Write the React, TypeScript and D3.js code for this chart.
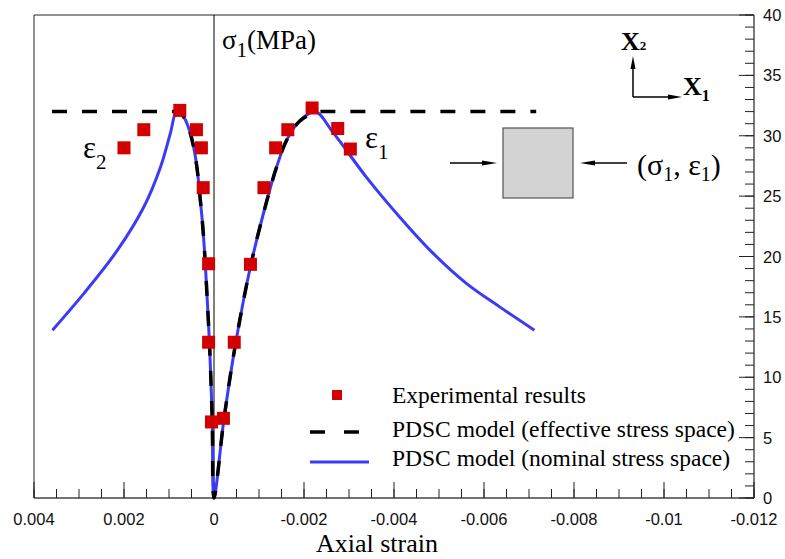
import React from "react";
import * as d3 from "d3";

// ---- data (strain, stress MPa) ----
const leftPrePeak: [number, number][] = [
  [0.00083, 32], [0.00068, 31.6], [0.00056, 30.6], [0.00046, 29.2], [0.00038, 27.4],
  [0.00031, 24.9], [0.00025, 22.5], [0.0002, 19.8], [0.00015, 16.4], [0.0001, 12.8],
  [0.00004, 6.5], [0, 0],
];
const rightPrePeak: [number, number][] = [
  [0, 0], [-0.00022, 6.5], [-0.00048, 12.8], [-0.00083, 19.5], [-0.00118, 24.7],
  [-0.00139, 27.4], [-0.00161, 29.6], [-0.0019, 31.2], [-0.00225, 32],
];
const leftSoftening: [number, number][] = [
  [0.00359, 13.9], [0.00289, 16.95], [0.00215, 20.5], [0.00156, 24.1],
  [0.00119, 27.4], [0.00097, 30.2],
];
const rightSoftening: [number, number][] = [
  [-0.00264, 30.3], [-0.00338, 26.6], [-0.00412, 23.3], [-0.00486, 20.3],
  [-0.0056, 17.8], [-0.00634, 15.85], [-0.00712, 13.9],
];
const effectiveLeftEnd: [number, number] = [0.0036, 32];
const effectiveRightEnd: [number, number] = [-0.00716, 32];

const experimental: [number, number][] = [
  [0.00076, 32.1], [0.00156, 30.5], [0.002, 29.0], [0.00039, 30.5], [0.00028, 29.0],
  [0.00024, 25.7], [0.00012, 19.4], [0.00012, 12.9], [0.000056, 6.3],
  [-0.00218, 32.3], [-0.00164, 30.5], [-0.00137, 29.0], [-0.00111, 25.7],
  [-0.00275, 30.6], [-0.00303, 28.9], [-0.00081, 19.35], [-0.00045, 12.9], [-0.00021, 6.6],
];

const xTickValues = [0.004, 0.002, 0, -0.002, -0.004, -0.006, -0.008, -0.01, -0.012];
const xTickLabels = ["0.004", "0.002", "0", "-0.002", "-0.004", "-0.006", "-0.008", "-0.01", "-0.012"];
const yTickValues = [0, 5, 10, 15, 20, 25, 30, 35, 40];
const yTickLabels = ["0", "5", "10", "15", "20", "25", "30", "35", "40"];
const legendLabels = [
  "Experimental results",
  "PDSC model (effective stress space)",
  "PDSC model (nominal stress space)",
];

const W = 785, H = 559;
const L = 34, R = 754, T = 15, B = 498;
const SERIF = "'Liberation Serif', 'Times New Roman', serif";
const SANS = "'Liberation Sans', Arial, sans-serif";
const RED = "#d20000";
const BLUE = "#3b3bf7";

export default function App() {
  const x = d3.scaleLinear().domain([0.004, -0.012]).range([L, R]);
  const y = d3.scaleLinear().domain([0, 40]).range([B, T]);

  const line = d3
    .line<[number, number]>()
    .x((d) => x(d[0]))
    .y((d) => y(d[1]))
    .curve(d3.curveCatmullRom.alpha(0.5));
  const straight = d3
    .line<[number, number]>()
    .x((d) => x(d[0]))
    .y((d) => y(d[1]));

  const nominal: [number, number][] = [
    ...leftSoftening,
    ...leftPrePeak,
    ...rightPrePeak.slice(1),
    ...rightSoftening,
  ];
  const prePeak: [number, number][] = [...leftPrePeak, ...rightPrePeak.slice(1)];
  const effectivePath =
    straight([effectiveLeftEnd, leftPrePeak[0]])! +
    (line(prePeak) as string).replace(/^M/, "L") +
    straight([rightPrePeak[rightPrePeak.length - 1], effectiveRightEnd])!.replace(/^M/, "L");

  const minorX = x.ticks(32);
  const minorY = y.ticks(40);
  const ms = 13;

  return (
    <svg width={W} height={H} style={{ position: "absolute", left: 0, top: 0, background: "#fff" }}>
      <rect x={0} y={0} width={W} height={H} fill="#fff" />
      {/* frame */}
      <line x1={L} y1={T} x2={R} y2={T} stroke="#222" strokeWidth={1} />
      <line x1={L} y1={T} x2={L} y2={B} stroke="#222" strokeWidth={1} />
      <line x1={R} y1={T} x2={R} y2={B} stroke="#333" strokeWidth={1.3} />
      <line x1={L} y1={B} x2={R} y2={B} stroke="#444" strokeWidth={1.6} />
      {/* x ticks */}
      {minorX.map((t, i) => (
        <line key={"mx" + i} x1={x(t)} x2={x(t)} y1={B} y2={B - 9} stroke="#222" strokeWidth={1} />
      ))}
      {xTickValues.map((t, i) => (
        <g key={"x" + i}>
          <line x1={x(t)} x2={x(t)} y1={B} y2={B - 16} stroke="#222" strokeWidth={1} />
          <text x={x(t)} y={524.5} textAnchor="middle" fontFamily={SANS} fontSize={16.5} fill="#111">
            {xTickLabels[i]}
          </text>
        </g>
      ))}
      {/* y ticks */}
      {minorY.map((t, i) => (
        <line key={"my" + i} x1={R} x2={R - 9} y1={y(t)} y2={y(t)} stroke="#222" strokeWidth={1} />
      ))}
      {yTickValues.map((t, i) => (
        <g key={"y" + i}>
          <line x1={R} x2={R - 15} y1={y(t)} y2={y(t)} stroke="#222" strokeWidth={1} />
          <text x={763} y={y(t) + 6} fontFamily={SANS} fontSize={16.5} fill="#111">
            {yTickLabels[i]}
          </text>
        </g>
      ))}
      {/* vertical axis at 0 */}
      <line x1={x(0)} x2={x(0)} y1={T} y2={B} stroke="#000" strokeWidth={1} />

      {/* curves */}
      <path d={line(nominal)!} fill="none" stroke={BLUE} strokeWidth={3} />
      <path d={effectivePath} fill="none" stroke="#000" strokeWidth={3.5} strokeDasharray="15 15" />

      {/* experimental */}
      {experimental.map((d, i) => (
        <rect key={"e" + i} x={x(d[0]) - ms / 2} y={y(d[1]) - ms / 2} width={ms} height={ms} fill={RED} />
      ))}

      {/* axis title */}
      <text x={377} y={552} textAnchor="middle" fontFamily={SERIF} fontSize={26} fill="#000">
        Axial strain
      </text>

      {/* annotations */}
      <text x={222} y={49} fontFamily={SERIF} fontSize={27} fill="#000">
        σ<tspan fontSize={21} dy={8}>1</tspan>
        <tspan dy={-8}>(MPa)</tspan>
      </text>
      <text x={83} y={158} fontFamily={SERIF} fontSize={31} fill="#000">
        ε<tspan fontSize={21} dy={11}>2</tspan>
      </text>
      <text x={365} y={148} fontFamily={SERIF} fontSize={31} fill="#000">
        ε<tspan fontSize={21} dy={11}>1</tspan>
      </text>
      <text x={637} y={175} fontFamily={SERIF} fontSize={30} fill="#000">
        (σ<tspan fontSize={20} dy={6}>1</tspan>
        <tspan dy={-6}>, ε</tspan>
        <tspan fontSize={20} dy={6}>1</tspan>
        <tspan dy={-6}>)</tspan>
      </text>

      {/* coordinate axes glyph */}
      <line x1={633} y1={97} x2={633} y2={68} stroke="#000" strokeWidth={1.5} />
      <path d="M633,56 L630.5,69 L635.5,69 Z" fill="#000" />
      <line x1={633} y1={97} x2={670} y2={97} stroke="#000" strokeWidth={1.5} />
      <path d="M682,97 L668,94.5 L668,99.5 Z" fill="#000" />
      <text x={621} y={50} fontFamily={SERIF} fontSize={26} fontWeight="bold" fill="#000">
        X<tspan fontSize={13} dy={0}>2</tspan>
      </text>
      <text x={683} y={95} fontFamily={SERIF} fontSize={26} fontWeight="bold" fill="#000">
        X<tspan fontSize={16} dy={6}>1</tspan>
      </text>

      {/* specimen */}
      <rect x={503} y={128} width={70} height={70} fill="#d3d3d3" stroke="#555" strokeWidth={1.2} />
      <line x1={450} y1={163} x2={485} y2={163} stroke="#000" strokeWidth={1.4} />
      <path d="M497,163 L482,160.5 L482,165.5 Z" fill="#000" />
      <line x1={592} y1={163} x2={627} y2={163} stroke="#000" strokeWidth={1.4} />
      <path d="M580,163 L595,160.5 L595,165.5 Z" fill="#000" />

      {/* legend */}
      <rect x={332} y={390} width={10} height={10} fill={RED} />
      <text x={392} y={403} fontFamily={SERIF} fontSize={23.5} fill="#000">{legendLabels[0]}</text>
      <line x1={310} x2={359} y1={432} y2={432} stroke="#000" strokeWidth={3.5} strokeDasharray="15 19" />
      <text x={392} y={437} fontFamily={SERIF} fontSize={23.5} fill="#000">{legendLabels[1]}</text>
      <line x1={310} x2={369} y1={462} y2={462} stroke={BLUE} strokeWidth={3} />
      <text x={392} y={466} fontFamily={SERIF} fontSize={23.5} fill="#000">{legendLabels[2]}</text>
    </svg>
  );
}
